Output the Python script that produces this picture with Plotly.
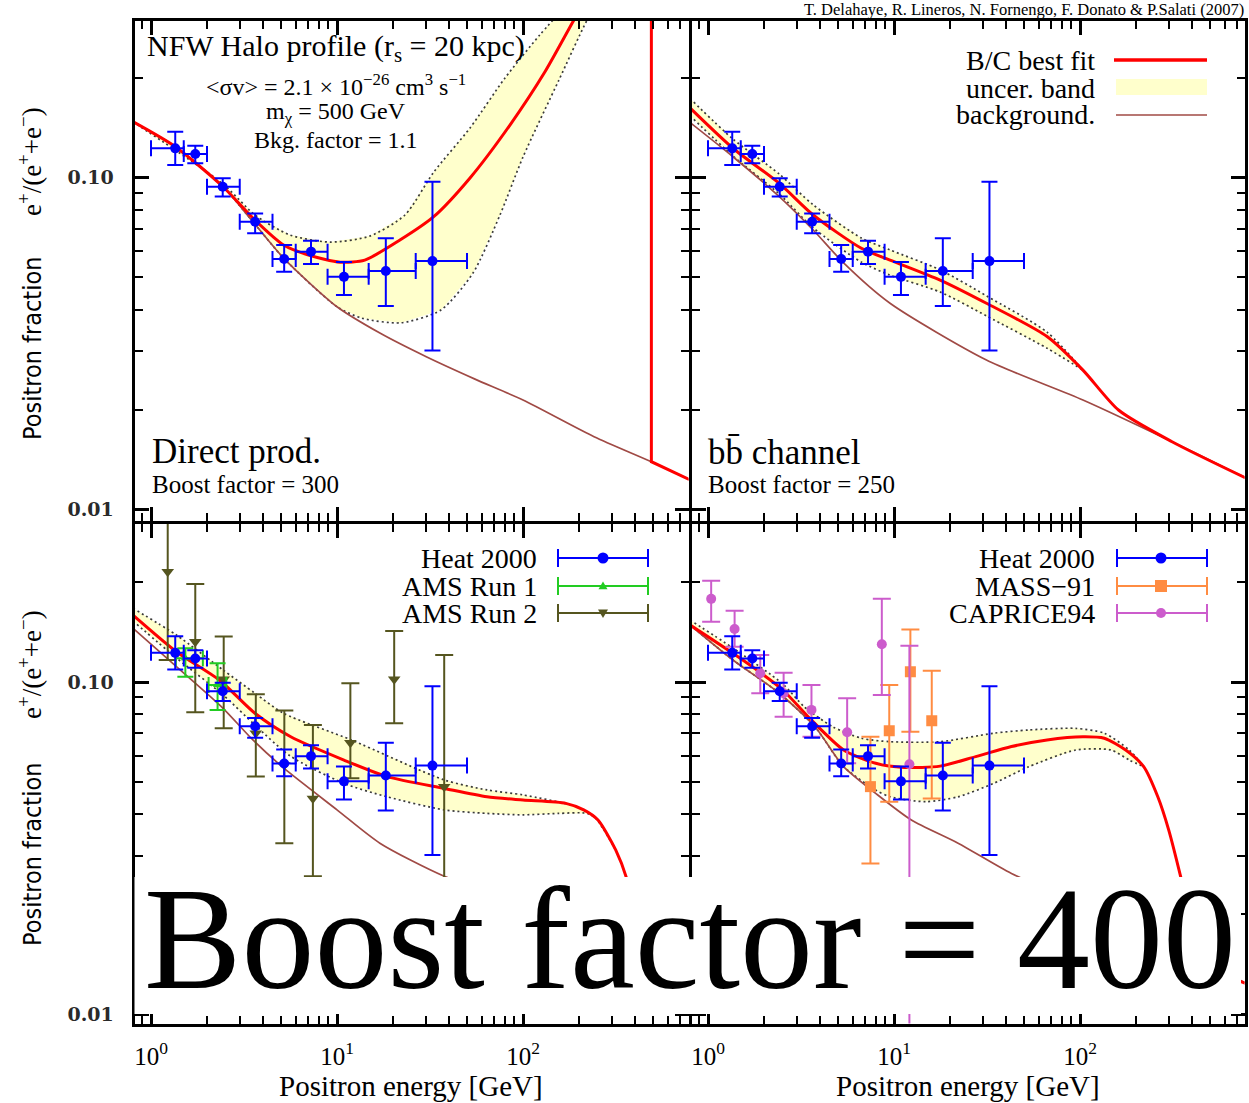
import plotly.graph_objects as go

W, H = 1249, 1103

# ---------------- measured data (energy in GeV, positron fraction) ----------------
heat_E = [1.35, 1.73, 2.43, 3.63, 5.2, 7.25, 10.9, 18.3, 32.6]
heat_E_lo = [1.0, 1.5, 2.0, 3.0, 4.5, 6.0, 8.9, 14.8, 26.5]
heat_E_hi = [1.5, 2.0, 3.0, 4.5, 6.0, 8.9, 14.8, 26.5, 50.0]
heat_f = [0.1224, 0.1177, 0.0938, 0.0736, 0.0568, 0.0598, 0.0502, 0.0523, 0.0560]
heat_f_lo = [0.1090, 0.1103, 0.0876, 0.0679, 0.0520, 0.0549, 0.0443, 0.0410, 0.0301]
heat_f_hi = [0.1374, 0.1247, 0.0995, 0.0779, 0.0626, 0.0645, 0.0557, 0.0656, 0.0971]

ams1_E = [1.53, 2.28]
ams1_E_lo = [1.36, 2.04]
ams1_E_hi = [1.90, 2.54]
ams1_f = [0.118, 0.098]
ams1_f_lo = [0.1037, 0.0823]
ams1_f_hi = [0.1263, 0.1138]

ams2_E = [1.23, 1.73, 2.46, 3.66, 5.21, 7.42, 11.8, 20.3, 37.7]
ams2_f = [0.215, 0.1323, 0.1019, 0.0701, 0.0562, 0.0446, 0.0656, 0.1019, 0.0484]
ams2_f_lo = [0.1165, 0.0811, 0.0725, 0.0519, 0.0327, 0.0260, 0.0513, 0.0751, 0.020]
ams2_f_hi = [0.40, 0.1973, 0.137, 0.0918, 0.0820, 0.0742, 0.0991, 0.1424, 0.1206]

mass_E = [7.47, 9.43, 12.25, 15.96]
mass_f = [0.0484, 0.0713, 0.1074, 0.0764]
mass_f_lo = [0.0284, 0.0436, 0.0708, 0.0446]
mass_f_hi = [0.0684, 0.0980, 0.1440, 0.1081]

cap_E = [1.04, 1.39, 1.91, 2.55, 3.60, 5.60, 8.60, 12.1]
cap_f = [0.178, 0.1444, 0.1062, 0.0925, 0.0824, 0.0706, 0.1299, 0.0565]
cap_f_lo = [0.152, 0.1278, 0.0925, 0.0786, 0.0684, 0.0569, 0.0914, 0.001]
cap_f_hi = [0.2018, 0.164, 0.1206, 0.1067, 0.098, 0.0893, 0.178, 0.1286]

# ---------------- model curves ----------------
# direct production, boost 300
tl_bg_E = [0.80, 1.35, 2.44, 3.53, 5.16, 10.0, 17.0, 30.2, 55.2, 100, 241, 490, 800]
tl_bg_f = [0.1472, 0.1238, 0.0938, 0.0736, 0.0572, 0.0408, 0.0340, 0.02885, 0.0247,
           0.02137, 0.01657, 0.01393, 0.01225]
tl_fit_E = [0.80, 1.35, 2.44, 3.62, 5.16, 7.03, 10.4, 14.1, 21.8, 33.1, 51.9, 85.1, 131,
            189, 331, 490]
tl_fit_f = [0.1472, 0.1238, 0.0938, 0.0744, 0.0626, 0.0584, 0.0556, 0.0564, 0.0648, 0.0762,
            0.0997, 0.1439, 0.2078, 0.300, 0.519, 0.734]
tl_cut_E = [490, 490, 800]
tl_cut_f = [0.734, 0.01393, 0.01225]
tl_up_E = [0.80, 2.44, 3.62, 5.59, 9.17, 15.0, 23.2, 33.1, 51.9, 80.0, 123, 203]
tl_up_f = [0.1472, 0.0956, 0.0771, 0.0671, 0.0639, 0.0666, 0.0771, 0.1038, 0.141, 0.1994,
           0.2686, 0.367]
tl_lo_E = [0.80, 1.35, 2.44, 3.53, 5.16, 10.0, 13.6, 22.1, 36.2, 53.9, 75.2, 100, 156, 221, 294]
tl_lo_f = [0.1472, 0.1238, 0.0938, 0.0736, 0.0572, 0.0408, 0.0377, 0.0365, 0.0399, 0.0516,
           0.0771, 0.1153, 0.1966, 0.298, 0.394]

# b bbar channel, boost 250
tr_bg_E = [0.80, 1.361, 2.417, 3.679, 5.358, 9.52, 31.4, 103.7, 312.5, 820]
tr_bg_f = [0.1465, 0.1155, 0.0876, 0.0695, 0.0553, 0.0418, 0.0282, 0.02137, 0.0160, 0.01227]
tr_fit_E = [0.80, 1.361, 2.417, 3.679, 6.68, 9.52, 17.7, 31.4, 66.5, 103.7, 161, 312.5, 820]
tr_fit_f = [0.162, 0.1225, 0.0960, 0.0771, 0.0612, 0.0564, 0.0491, 0.0418, 0.0332, 0.0263,
            0.01994, 0.0160, 0.01227]
tr_up_E = [0.80, 1.361, 2.417, 3.679, 6.68, 9.52, 17.7, 31.4, 66.5, 103.7]
tr_up_f = [0.173, 0.1306, 0.1024, 0.0827, 0.0657, 0.0605, 0.0527, 0.0440, 0.0342, 0.0263]
tr_lo_E = [0.80, 1.361, 2.417, 3.679, 6.68, 9.52, 17.7, 31.4, 66.5, 103.7]
tr_lo_f = [0.1535, 0.1161, 0.0892, 0.0705, 0.0556, 0.0508, 0.0452, 0.0383, 0.0306, 0.0263]

# lower-left model
bl_bg_E = [0.80, 1.37, 2.44, 3.53, 5.16, 10.0, 17.0, 37.7, 100, 300, 800]
bl_bg_f = [0.1451, 0.1112, 0.0833, 0.0669, 0.0551, 0.0412, 0.0327, 0.0260, 0.0214, 0.0160, 0.0123]
bl_fit_E = [0.80, 1.37, 2.33, 3.62, 5.64, 10.9, 18.6, 37.7, 64.0, 100, 170, 212, 253, 315,
            360, 426, 490, 800]
bl_fit_f = [0.1591, 0.1234, 0.1014, 0.0805, 0.0684, 0.0582, 0.0519, 0.0478, 0.0451, 0.0441,
            0.0431, 0.0412, 0.0384, 0.0312, 0.0257, 0.0170, 0.0139, 0.0123]
bl_up_E = [0.80, 1.37, 2.44, 3.62, 5.16, 11.95, 37.7, 64.0, 100, 194, 242, 315]
bl_up_f = [0.1667, 0.1385, 0.1087, 0.0925, 0.0805, 0.0669, 0.0507, 0.0473, 0.0457, 0.0421,
           0.0393, 0.0312]
bl_lo_E = [0.80, 1.37, 2.44, 3.62, 5.59, 10.9, 18.6, 37.7, 64.0, 100, 155, 221, 253, 315]
bl_lo_f = [0.1527, 0.1181, 0.0914, 0.0742, 0.0599, 0.0495, 0.0451, 0.0412, 0.0402, 0.0398,
           0.0402, 0.0402, 0.0384, 0.0312]

# lower-right model
br_bg_E = [0.80, 1.361, 2.417, 3.76, 5.36, 7.97, 12.4, 22.1, 42.8, 100, 300, 800]
br_bg_f = [0.1485, 0.1165, 0.0925, 0.0733, 0.0556, 0.0462, 0.0384, 0.0327, 0.0265, 0.0214,
           0.0162, 0.0123]
br_fit_E = [0.80, 1.361, 1.937, 2.527, 3.596, 5.36, 7.97, 11.36, 17.7, 27.5, 42.8, 66.5, 103.7,
            135, 176, 220, 262, 300, 349, 420, 490, 800]
br_fit_f = [0.1485, 0.122, 0.1062, 0.0946, 0.0768, 0.0624, 0.0569, 0.0553, 0.0558, 0.0596,
            0.0639, 0.0669, 0.0684, 0.0677, 0.0624, 0.0556, 0.0451, 0.0358, 0.0257, 0.0165,
            0.0139, 0.0123]
br_up_E = [0.80, 1.361, 2.527, 3.294, 4.69, 6.68, 9.52, 17.7, 34.3, 53.2, 94.8, 135, 184, 220]
br_up_f = [0.1537, 0.1266, 0.0986, 0.0842, 0.0733, 0.0677, 0.0661, 0.0661, 0.0701, 0.0717,
           0.0725, 0.0701, 0.0624, 0.0556]
br_lo_E = [0.80, 1.361, 2.417, 3.76, 5.36, 7.97, 9.52, 14.8, 22.1, 34.3, 53.2, 94.8, 147, 184, 220]
br_lo_f = [0.1485, 0.1165, 0.0925, 0.0733, 0.0556, 0.0473, 0.0451, 0.0436, 0.0451, 0.0495,
           0.0556, 0.0624, 0.0624, 0.0582, 0.0556]

# axis ticks
x_major = [1, 10, 100]
x_major_text = ["10<sup>0</sup>", "10<sup>1</sup>", "10<sup>2</sup>"]
x_minor = [0.8, 0.9] + [d * m for m in (1, 10, 100) for d in range(2, 10) if d * m < 800]
y_major = [0.01, 0.1]
y_major_text = ["0.01", "0.10"]
y_minor = [d * 0.01 for d in range(2, 10)] + [0.2, 0.3]

# ---------------- styles ----------------
SERIF = "Liberation Serif, Times New Roman, serif"
NARROW = "Liberation Sans Narrow, DejaVu Sans Condensed, Arial Narrow, sans-serif"
RED = "#ff0000"
BG = "#a04a45"
BAND = "#ffffcc"
DOT = "#3a3a3a"
BLUE = "#0000ff"
GREEN = "#22cc22"
OLIVE = "#55551f"
ORANGE = "#ff8c42"
VIOLET = "#cc5ccc"

fig = go.Figure()


def band(xa, ya, upE, upF, loE, loF):
    fig.add_trace(go.Scatter(x=upE + loE[::-1], y=upF + loF[::-1], xaxis=xa, yaxis=ya,
                             mode="lines", fill="toself", fillcolor=BAND,
                             line=dict(width=0), hoverinfo="skip"))
    for E, F in ((upE, upF), (loE, loF)):
        fig.add_trace(go.Scatter(x=E, y=F, xaxis=xa, yaxis=ya, mode="lines",
                                 line=dict(color=DOT, width=1.7, dash="2px,3px",
                                           shape="spline", smoothing=0.7),
                                 hoverinfo="skip"))


def curve(xa, ya, E, F, color, width, shape="spline"):
    fig.add_trace(go.Scatter(x=E, y=F, xaxis=xa, yaxis=ya, mode="lines",
                             line=dict(color=color, width=width, shape=shape, smoothing=0.7),
                             hoverinfo="skip"))


def points(xa, ya, E, F, lo, hi, color, symbol, size, Elo=None, Ehi=None, cap=8):
    ex = None
    if Elo is not None:
        ex = dict(type="data", symmetric=False,
                  array=[h - e for h, e in zip(Ehi, E)],
                  arrayminus=[e - l for e, l in zip(E, Elo)],
                  color=color, thickness=2, width=cap)
    fig.add_trace(go.Scatter(
        x=E, y=F, xaxis=xa, yaxis=ya, mode="markers",
        marker=dict(color=color, symbol=symbol, size=size, line=dict(width=0)),
        error_y=dict(type="data", symmetric=False,
                     array=[h - f for h, f in zip(hi, F)],
                     arrayminus=[f - l for f, l in zip(F, lo)],
                     color=color, thickness=2, width=cap),
        error_x=ex, hoverinfo="skip"))


# upper-left: direct production
band("x", "y", tl_up_E, tl_up_f, tl_lo_E, tl_lo_f)
curve("x", "y", tl_bg_E, tl_bg_f, BG, 1.7)
curve("x", "y", tl_fit_E, tl_fit_f, RED, 3)
curve("x", "y", tl_cut_E, tl_cut_f, RED, 3, shape="linear")
points("x", "y", heat_E, heat_f, heat_f_lo, heat_f_hi, BLUE, "circle", 10, heat_E_lo, heat_E_hi)

# upper-right: b bbar
band("x2", "y2", tr_up_E, tr_up_f, tr_lo_E, tr_lo_f)
curve("x2", "y2", tr_bg_E, tr_bg_f, BG, 1.7)
curve("x2", "y2", tr_fit_E, tr_fit_f, RED, 3)
points("x2", "y2", heat_E, heat_f, heat_f_lo, heat_f_hi, BLUE, "circle", 10, heat_E_lo, heat_E_hi)

# lower-left: HEAT and AMS
band("x3", "y3", bl_up_E, bl_up_f, bl_lo_E, bl_lo_f)
curve("x3", "y3", bl_bg_E, bl_bg_f, BG, 1.7)
curve("x3", "y3", bl_fit_E, bl_fit_f, RED, 3)
points("x3", "y3", ams2_E, ams2_f, ams2_f_lo, ams2_f_hi, OLIVE, "triangle-down", 11, cap=9)
points("x3", "y3", ams1_E, ams1_f, ams1_f_lo, ams1_f_hi, GREEN, "triangle-up", 8,
       ams1_E_lo, ams1_E_hi)
points("x3", "y3", heat_E, heat_f, heat_f_lo, heat_f_hi, BLUE, "circle", 10, heat_E_lo, heat_E_hi)

# lower-right: HEAT, MASS, CAPRICE
band("x4", "y4", br_up_E, br_up_f, br_lo_E, br_lo_f)
curve("x4", "y4", br_bg_E, br_bg_f, BG, 1.7)
curve("x4", "y4", br_fit_E, br_fit_f, RED, 3)
points("x4", "y4", mass_E, mass_f, mass_f_lo, mass_f_hi, ORANGE, "square", 11, cap=9)
points("x4", "y4", cap_E, cap_f, cap_f_lo, cap_f_hi, VIOLET, "circle", 10, cap=9)
points("x4", "y4", heat_E, heat_f, heat_f_lo, heat_f_hi, BLUE, "circle", 10, heat_E_lo, heat_E_hi)

# ---------------- axes ----------------
# frames sit half a line width outside each domain, so the shared borders coincide
XR = [-0.0887, 2.8898]
XR2 = [-0.0887, 2.8844]
YR_TOP = [-2.0331, -0.5271]
YR_BOT = [-2.0286, -0.5226]
XL = [134.5 / W, 688.5 / W]
XRT = [691.5 / W, 1244.5 / W]
YT = [1 - 520.5 / H, 1 - 20.5 / H]
YB = [1 - 1023.5 / H, 1 - 523.5 / H]


def xaxis(domain, anchor, rng, labels):
    return dict(type="log", range=rng, domain=domain, anchor=anchor,
                showline=True, linecolor="black", linewidth=3, mirror="allticks",
                ticks="inside", ticklen=14, tickwidth=2.5, tickcolor="black",
                tickvals=x_major, ticktext=x_major_text, showticklabels=labels,
                tickfont=dict(family=SERIF, size=25, color="black"), ticklabelstandoff=8,
                minor=dict(ticks="inside", ticklen=8, tickwidth=2, tickcolor="black",
                           tickvals=x_minor, showgrid=False),
                showgrid=False, zeroline=False, fixedrange=True)


def yaxis(domain, anchor, rng, labels):
    return dict(type="log", range=rng, domain=domain, anchor=anchor,
                showline=True, linecolor="black", linewidth=3, mirror="allticks",
                ticks="inside", ticklen=14, tickwidth=2.5, tickcolor="black",
                tickvals=y_major, ticktext=y_major_text, showticklabels=labels,
                tickfont=dict(family="DejaVu Serif, serif", size=19, color="#2a2a2a",
                              weight="bold"),
                ticklabelstandoff=14,
                minor=dict(ticks="inside", ticklen=8, tickwidth=2, tickcolor="black",
                           tickvals=y_minor, showgrid=False),
                showgrid=False, zeroline=False, fixedrange=True)


fig.update_layout(
    width=W, height=H, margin=dict(l=0, r=0, t=0, b=0),
    paper_bgcolor="white", plot_bgcolor="white", showlegend=False,
    xaxis=xaxis(XL, "y", XR, False), yaxis=yaxis(YT, "x", YR_TOP, True),
    xaxis2=xaxis(XRT, "y2", XR2, False), yaxis2=yaxis(YT, "x2", YR_TOP, False),
    xaxis3=xaxis(XL, "y3", XR, True), yaxis3=yaxis(YB, "x3", YR_BOT, True),
    xaxis4=xaxis(XRT, "y4", XR2, True), yaxis4=yaxis(YB, "x4", YR_BOT, False),
)


# ---------------- text & keys (pixel placement) ----------------
def text(x, y, s, size, xanchor="center", family=SERIF, angle=0, color="black"):
    fig.add_annotation(x=x / W, y=1 - y / H, xref="paper", yref="paper", text=s,
                       showarrow=False, xanchor=xanchor, yanchor="middle", textangle=angle,
                       font=dict(family=family, size=size, color=color))


def hline(x0, x1, y, color, width):
    fig.add_shape(type="line", xref="paper", yref="paper", x0=x0 / W, x1=x1 / W,
                  y0=1 - y / H, y1=1 - y / H, line=dict(color=color, width=width))


def vline(x, y0, y1, color, width):
    fig.add_shape(type="line", xref="paper", yref="paper", x0=x / W, x1=x / W,
                  y0=1 - y0 / H, y1=1 - y1 / H, line=dict(color=color, width=width))


def marker(cx, cy, kind, color, r):
    if kind == "circle":
        fig.add_shape(type="circle", xref="paper", yref="paper", x0=(cx - r) / W,
                      x1=(cx + r) / W, y0=1 - (cy + r) / H, y1=1 - (cy - r) / H,
                      fillcolor=color, line=dict(width=0))
    elif kind == "square":
        fig.add_shape(type="rect", xref="paper", yref="paper", x0=(cx - r) / W,
                      x1=(cx + r) / W, y0=1 - (cy + r) / H, y1=1 - (cy - r) / H,
                      fillcolor=color, line=dict(width=0))
    else:
        s = 1 if kind == "up" else -1
        pts = [(cx, cy - s * r), (cx - r, cy + s * r * 0.7), (cx + r, cy + s * r * 0.7)]
        path = "M " + " L ".join(f"{px / W},{1 - py / H}" for px, py in pts) + " Z"
        fig.add_shape(type="path", xref="paper", yref="paper", path=path,
                      fillcolor=color, line=dict(width=0))


def key(x0, x1, xm, y, color, kind, r):
    hline(x0, x1, y, color, 2)
    vline(x0, y - 9, y + 9, color, 2)
    vline(x1, y - 9, y + 9, color, 2)
    marker(xm, y, kind, color, r)


text(1246, 9, "T. Delahaye, R. Lineros, N. Fornengo, F. Donato &amp; P.Salati (2007)", 16.5,
     xanchor="right")

# upper-left annotations
text(336, 48, "NFW Halo profile (r<sub>s</sub> = 20 kpc)", 30)
text(336, 85, "&lt;σv&gt; = 2.1 × 10<sup>−26</sup> cm<sup>3</sup> s<sup>−1</sup>", 24)
text(336, 113, "m<sub>χ</sub> = 500 GeV", 24)
text(336, 140, "Bkg. factor = 1.1", 24)
text(150, 451, "Direct prod.", 35, xanchor="left")
text(150, 484, "Boost factor = 300", 25, xanchor="left")

# upper-right annotations and model key
text(706, 453, "bb\u0304 channel", 35, xanchor="left")
text(706, 484, "Boost factor = 250", 25, xanchor="left")
text(1097, 60, "B/C best fit", 28, xanchor="right")
text(1097, 88, "uncer. band", 28, xanchor="right")
text(1097, 115, "background.", 28, xanchor="right")
hline(1114, 1207, 60, RED, 3.5)
fig.add_shape(type="rect", xref="paper", yref="paper", x0=1116 / W, x1=1207 / W,
              y0=1 - 95 / H, y1=1 - 79 / H, fillcolor=BAND, line=dict(width=0))
hline(1116, 1207, 115, BG, 1.7)

# lower-left key
text(539, 558, "Heat 2000", 28, xanchor="right")
text(539, 586, "AMS Run 1", 28, xanchor="right")
text(539, 613, "AMS Run 2", 28, xanchor="right")
key(558, 648, 603, 558, BLUE, "circle", 5.5)
key(558, 648, 603, 586, GREEN, "up", 4.5)
key(558, 648, 603, 613, OLIVE, "down", 5)

# lower-right key
text(1097, 558, "Heat 2000", 28, xanchor="right")
text(1097, 586, "MASS−91", 28, xanchor="right")
text(1097, 613, "CAPRICE94", 28, xanchor="right")
key(1117, 1207, 1161, 558, BLUE, "circle", 5.5)
key(1117, 1207, 1161, 586, ORANGE, "square", 6)
key(1117, 1207, 1161, 613, VIOLET, "circle", 5)

# axis titles
for cy_e, cy_p in ((162, 349), (665, 855)):
    text(30, cy_e, "e<sup>+</sup>/(e<sup>+</sup>+e<sup>−</sup>)", 27, family=SERIF, angle=-90)
    text(32, cy_p, "Positron fraction", 25, family=NARROW, angle=-90)
text(411, 1086, "Positron energy [GeV]", 29)
text(968, 1086, "Positron energy [GeV]", 29)

# banner across the lower row
fig.add_shape(type="rect", xref="paper", yref="paper", x0=134.5 / W, x1=1241 / W,
              y0=1 - 1014 / H, y1=1 - 877 / H, fillcolor="white", line=dict(width=0),
              layer="above")
text(690, 939, "Boost factor = 400", 146)

fig.write_html("out.html")
